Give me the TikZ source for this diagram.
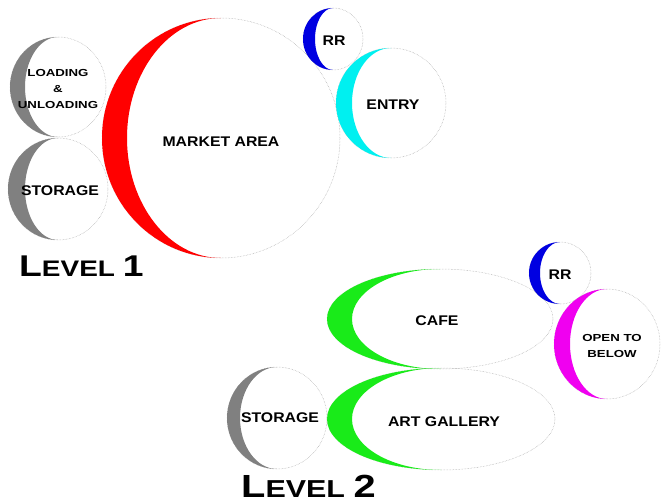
\documentclass[tikz,border=0pt]{standalone}
\usepackage{fontspec}
\setmainfont[FakeStretch=1.13]{Liberation Sans}
\usetikzlibrary{calc}

\definecolor{moongray}{RGB}{128,128,128}
\definecolor{moongreen}{RGB}{25,235,25}
\definecolor{moonblue}{RGB}{0,0,225}
\definecolor{mooncyan}{RGB}{0,240,240}
\definecolor{moonmagenta}{RGB}{240,0,240}

% centre, x radius, y radius, crescent width, colour
\newcommand{\drawbubble}[5]{%
  \draw[rim] (#1) ellipse[x radius=#2, y radius=#3];
  \fill[#5] ($(#1)+(0,-#3)$) arc[start angle=-90, end angle=-270, x radius=#2, y radius=#3]
    arc[start angle=90, end angle=270, x radius=#2-#4, y radius=#3] -- cycle;
}

\begin{document}
\begin{tikzpicture}[x=1pt, y=-1pt,
    rim/.style={gray!70, densely dotted, line width=0.5pt},
    lbl/.style={font=\fontsize{14}{16}\selectfont\bfseries, inner sep=0pt},
    smalllbl/.style={font=\fontsize{10.2}{16}\selectfont\bfseries, inner sep=0pt, align=center, xscale=1.15},
    levellbl/.style={anchor=base west, inner sep=0pt, xscale=1.1}]
        \useasboundingbox (0,0) rectangle (661,503);
        \coordinate (LU) at (58,87);
        \coordinate (ST1) at (58,189);
        \coordinate (MA) at (221,138);
        \coordinate (RR1) at (333,39);
        \coordinate (EN) at (391,103);
        \coordinate (CF) at (440,319);
        \coordinate (AG) at (441,419);
        \coordinate (ST2) at (277,418);
        \coordinate (RR2) at (560,273);
        \coordinate (OB) at (607,344);

        % Level 1.
        \drawbubble{LU}{48}{50}{15}{moongray}
        \drawbubble{ST1}{50}{51}{17}{moongray}
        \drawbubble{MA}{119}{120}{25}{red}
        \drawbubble{RR1}{30}{31}{12}{moonblue}
        \drawbubble{EN}{55}{55}{16}{mooncyan}

        \node[smalllbl] (loading) at (58,89) {LOADING\\\&\\UNLOADING};
        \node[lbl] (storage1) at (60,191) {STORAGE};
        \node[lbl] (market) at (221,142) {MARKET AREA};
        \node[lbl] (rr1) at (334,41) {RR};
        \node[lbl] (entry) at (393,105) {ENTRY};
        \node[levellbl] (level1) at (19,276) {\bfseries\fontsize{30}{30}\selectfont L\fontsize{22.5}{30}\selectfont EVEL \fontsize{30}{30}\selectfont 1};

        % Level 2.
        \drawbubble{CF}{113}{50}{25}{moongreen}
        \drawbubble{AG}{114}{51}{25}{moongreen}
        \drawbubble{ST2}{50}{51}{13}{moongray}
        \drawbubble{RR2}{31}{31}{11}{moonblue}
        \drawbubble{OB}{53}{55}{16}{moonmagenta}

        \node[lbl] (cafe) at (437,321) {CAFE};
        \node[lbl] (gallery) at (444,422) {ART GALLERY};
        \node[lbl] (storage2) at (280,418) {STORAGE};
        \node[lbl] (rr2) at (560,275) {RR};
        \node[smalllbl] (open) at (612,346) {OPEN TO\\BELOW};
        \node[levellbl] (level2) at (241,497) {\bfseries\fontsize{32}{32}\selectfont L\fontsize{24.5}{32}\selectfont EVEL \fontsize{32}{32}\selectfont 2};

    \end{tikzpicture}
\end{document}
